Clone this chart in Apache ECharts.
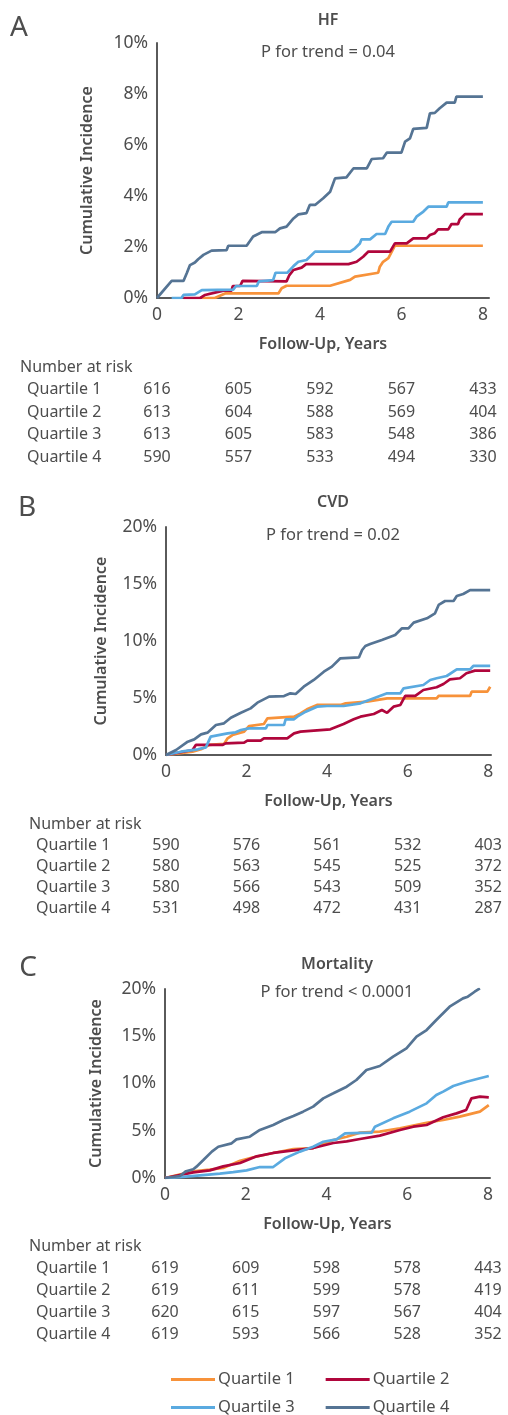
<!DOCTYPE html>
<html>
<head>
<meta charset="utf-8">
<script src="https://cdn.jsdelivr.net/npm/echarts@6/dist/echarts.min.js"></script>
<style>
html,body{margin:0;padding:0;background:#fff;}
#c{width:508px;height:1415px;}
</style>
</head>
<body>
<div id="c"></div>
<script>
// ---------- data ----------
const quartiles = ['Quartile 1','Quartile 2','Quartile 3','Quartile 4'];
const xTicks = [0,2,4,6,8];

// Panel A: HF cumulative incidence (%), [year, pct]
const hfQ1 = [[1.1,0],[1.42,0],[1.67,0.18],[2.98,0.18],[3.06,0.38],[3.18,0.48],[4.25,0.48],[4.74,0.71],[4.86,0.84],[5.43,0.99],[5.47,1.23],[5.55,1.42],[5.68,1.56],[5.84,2.05],[8.0,2.05]];
const hfQ2 = [[0.65,0],[1.06,0],[1.18,0.12],[1.34,0.18],[1.63,0.29],[1.83,0.29],[1.86,0.47],[2.04,0.47],[2.1,0.67],[3.18,0.65],[3.25,0.9],[3.35,1.1],[3.55,1.19],[3.66,1.33],[4.7,1.33],[4.9,1.42],[5.06,1.62],[5.19,1.82],[5.72,1.82],[5.84,2.14],[6.13,2.14],[6.29,2.34],[6.62,2.34],[6.7,2.47],[6.82,2.54],[6.9,2.69],[7.15,2.69],[7.23,2.9],[7.39,2.9],[7.43,3.08],[7.56,3.29],[8.0,3.29]];
const hfQ3 = [[0.36,0],[0.6,0],[0.65,0.12],[0.93,0.14],[1.1,0.31],[1.87,0.33],[1.94,0.47],[2.45,0.47],[2.5,0.65],[2.85,0.7],[2.91,0.99],[3.2,0.99],[3.35,1.25],[3.47,1.42],[3.67,1.49],[3.88,1.82],[4.74,1.82],[4.86,1.95],[4.98,2.14],[5.02,2.3],[5.23,2.3],[5.39,2.51],[5.6,2.51],[5.68,2.8],[5.76,2.99],[6.29,2.99],[6.37,3.19],[6.54,3.39],[6.66,3.58],[7.11,3.58],[7.15,3.75],[8.0,3.75]];
const hfQ4 = [[0,0],[0.36,0.67],[0.65,0.67],[0.73,0.97],[0.81,1.29],[0.93,1.39],[1.01,1.52],[1.14,1.69],[1.34,1.86],[1.71,1.88],[1.75,2.05],[2.2,2.05],[2.36,2.41],[2.57,2.58],[2.9,2.58],[3.02,2.73],[3.18,2.8],[3.35,3.12],[3.47,3.28],[3.67,3.33],[3.75,3.65],[3.88,3.65],[4.08,3.91],[4.25,4.17],[4.37,4.69],[4.65,4.73],[4.82,5.08],[5.15,5.08],[5.27,5.45],[5.55,5.48],[5.64,5.7],[6.0,5.7],[6.09,6.13],[6.21,6.26],[6.29,6.63],[6.62,6.67],[6.7,7.24],[6.82,7.26],[6.94,7.44],[7.11,7.66],[7.31,7.66],[7.35,7.9],[8.0,7.9]];

// Panel B: CVD
const cvdQ1 = [[0,0],[0.66,0.29],[0.87,0.5],[1.07,0.88],[1.44,0.97],[1.53,1.46],[1.65,1.75],[1.94,2.05],[2.06,2.54],[2.43,2.72],[2.52,3.22],[2.89,3.3],[3.18,3.36],[3.34,3.65],[3.5,4.01],[3.75,4.39],[4.33,4.39],[4.46,4.53],[4.99,4.68],[5.49,4.97],[6.72,4.97],[6.77,5.18],[7.55,5.18],[7.59,5.56],[7.98,5.56],[8.05,5.99]];
const cvdQ2 = [[0,0],[0.66,0.44],[0.74,0.88],[1.4,0.88],[1.48,1.02],[1.94,1.08],[2.02,1.26],[2.35,1.26],[2.43,1.46],[3.01,1.46],[3.18,1.9],[3.34,2.05],[4.08,2.25],[4.41,2.72],[4.66,3.13],[4.83,3.36],[5.16,3.6],[5.36,3.95],[5.49,3.7],[5.65,4.24],[5.82,4.39],[5.94,5.18],[6.19,5.18],[6.39,5.7],[6.72,5.94],[6.89,6.23],[7.05,6.64],[7.3,6.73],[7.46,7.17],[7.67,7.4],[8.05,7.4]];
const cvdQ3 = [[0,0],[0.37,0.29],[0.79,0.5],[0.99,0.67],[1.11,1.61],[1.53,1.9],[1.73,1.99],[1.86,2.19],[2.06,2.34],[2.48,2.34],[2.52,2.63],[2.93,2.63],[2.97,3.13],[3.18,3.13],[3.26,3.36],[3.47,3.8],[3.75,4.24],[4.0,4.3],[4.41,4.3],[4.83,4.53],[5.16,4.97],[5.49,5.41],[5.82,5.41],[5.9,5.85],[6.39,6.14],[6.56,6.58],[6.72,6.73],[6.97,6.93],[7.22,7.51],[7.55,7.51],[7.63,7.81],[8.05,7.81]];
const cvdQ4 = [[0,0],[0.25,0.44],[0.54,1.17],[0.7,1.37],[0.87,1.81],[1.03,1.96],[1.24,2.63],[1.44,2.78],[1.61,3.27],[1.86,3.71],[2.1,4.09],[2.27,4.59],[2.56,5.12],[2.93,5.17],[3.09,5.41],[3.22,5.35],[3.42,5.99],[3.67,6.58],[3.92,7.31],[4.12,7.75],[4.33,8.48],[4.79,8.56],[4.87,9.21],[4.95,9.56],[5.07,9.74],[5.36,10.09],[5.69,10.53],[5.86,11.11],[6.02,11.11],[6.15,11.61],[6.48,11.99],[6.68,12.43],[6.77,13.16],[6.93,13.51],[7.14,13.51],[7.22,13.95],[7.38,14.12],[7.55,14.47],[8.05,14.47]];

// Panel C: Mortality
const mortQ1 = [[0,0],[0.7,0.7],[1.11,0.88],[1.44,1.06],[1.86,1.83],[2.19,2.19],[2.68,2.65],[3.18,3.07],[3.67,3.17],[4.17,4.02],[4.5,4.37],[4.83,4.8],[5.32,4.9],[5.82,5.26],[6.48,5.85],[6.89,6.14],[7.3,6.49],[7.8,7.02],[8.02,7.72]];
const mortQ2 = [[0,0],[0.7,0.6],[1.11,0.81],[1.44,1.23],[1.86,1.59],[2.27,2.29],[2.68,2.65],[3.18,2.93],[3.67,3.17],[4.17,3.7],[4.5,3.88],[4.83,4.13],[5.32,4.48],[5.82,5.08],[6.15,5.43],[6.48,5.61],[6.89,6.42],[7.22,6.84],[7.46,7.2],[7.59,8.43],[7.8,8.61],[8.02,8.54]];
const mortQ3 = [[0,0],[0.37,0.1],[0.87,0.28],[1.36,0.46],[1.69,0.63],[2.02,0.81],[2.35,1.16],[2.68,1.16],[2.97,2.08],[3.34,2.79],[3.67,3.31],[3.92,3.84],[4.25,4.09],[4.46,4.73],[5.12,4.8],[5.2,5.43],[5.65,6.31],[6.06,7.02],[6.48,7.9],[6.72,8.78],[6.89,9.14],[7.14,9.74],[7.47,10.19],[7.8,10.55],[8.02,10.79]];
const mortQ4 = [[0,0],[0.37,0.21],[0.5,0.67],[0.7,0.92],[0.78,1.2],[0.95,1.9],[1.16,2.79],[1.32,3.31],[1.65,3.67],[1.77,4.09],[2.1,4.37],[2.35,5.08],[2.68,5.61],[2.93,6.14],[3.18,6.56],[3.42,7.02],[3.67,7.55],[3.92,8.43],[4.17,8.96],[4.5,9.66],[4.74,10.37],[4.99,11.43],[5.32,11.85],[5.65,12.84],[5.98,13.72],[6.23,14.95],[6.48,15.66],[6.72,16.72],[7.05,18.13],[7.38,19.01],[7.5,19.19],[7.67,19.71],[7.8,20.07]];

// Number at risk tables
const riskHF   = [[616,605,592,567,433],[613,604,588,569,404],[613,605,583,548,386],[590,557,533,494,330]];
const riskCVD  = [[590,576,561,532,403],[580,563,545,525,372],[580,566,543,509,352],[531,498,472,431,287]];
const riskMort = [[619,609,598,578,443],[619,611,599,578,419],[620,615,597,567,404],[619,593,566,528,352]];

// ---------- styling ----------
const FONT = 'Noto Sans';
const TXT = '#4d4d4d';
const AX = '#5a5a5a';
const colors = ['#F7923A','#B0063C','#5AAAE0','#557494'];

const panels = [
  {letter:'A', title:'HF', p:'P for trend = 0.04', series:[hfQ1,hfQ2,hfQ3,hfQ4], risk:riskHF,
   grid:{left:157, top:43, width:332, height:255}, xmax:8.15, ymax:10, yint:2, nameGap:62,
   letterPos:[19,28], titleY:20, pY:52, titleX:328, riskTop:367, rowGap:22.5, riskLeft:20},
  {letter:'B', title:'CVD', p:'P for trend = 0.02', series:[cvdQ1,cvdQ2,cvdQ3,cvdQ4], risk:riskCVD,
   grid:{left:166, top:527, width:325, height:228}, xmax:8.07, ymax:20, yint:5, nameGap:57,
   letterPos:[27,508], titleY:502, pY:535, titleX:333, riskTop:824, rowGap:21, riskLeft:29},
  {letter:'C', title:'Mortality', p:'P for trend < 0.0001', series:[mortQ1,mortQ2,mortQ3,mortQ4], risk:riskMort,
   grid:{left:165, top:989, width:325, height:189}, xmax:8.05, ymax:20, yint:5, nameGap:61,
   letterPos:[28,968], titleY:964, pY:992, titleX:337, riskTop:1246, rowGap:22.2, riskLeft:29}
];

const grid = [], xAxis = [], yAxis = [], series = [];
panels.forEach((pn, i) => {
  grid.push(Object.assign({containLabel:false}, pn.grid));
  xAxis.push({
    type:'value', gridIndex:i, min:0, max:pn.xmax, interval:2,
    name:'Follow-Up, Years', nameLocation:'middle', nameGap:38,
    nameTextStyle:{color:TXT, fontFamily:FONT, fontSize:16, fontWeight:600},
    axisLine:{show:true, onZero:false, lineStyle:{color:AX, width:2}},
    axisTick:{show:false}, splitLine:{show:false},
    axisLabel:{color:TXT, fontFamily:FONT, fontSize:17.5, margin:8, showMaxLabel:false,
      formatter:v => (Math.abs(v - Math.round(v)) < 1e-9 ? String(v) : '')}
  });
  yAxis.push({
    type:'value', gridIndex:i, min:0, max:pn.ymax, interval:pn.yint,
    name:'Cumulative Incidence', nameLocation:'middle', nameGap:pn.nameGap,
    nameTextStyle:{color:TXT, fontFamily:FONT, fontSize:16, fontWeight:600},
    axisLine:{show:true, lineStyle:{color:AX, width:2}},
    axisTick:{show:false}, splitLine:{show:false},
    axisLabel:{color:TXT, fontFamily:FONT, fontSize:17.5, margin:9, formatter:'{value}%'}
  });
  pn.series.forEach((d, k) => {
    series.push({
      type:'line', name:quartiles[k], xAxisIndex:i, yAxisIndex:i, data:d,
      showSymbol:false, symbol:'none', silent:true, z:2+k,
      lineStyle:{color:colors[k], width:2.7}, itemStyle:{color:colors[k]}
    });
  });
});

const chart = echarts.init(document.getElementById('c'), null, {renderer:'canvas'});
chart.setOption({
  animation:false,
  backgroundColor:'#fff',
  textStyle:{fontFamily:FONT},
  grid, xAxis, yAxis, series,
  legend:[
    {data:['Quartile 1','Quartile 2'], left:166, top:1366, itemWidth:44, itemHeight:3, icon:'rect',
     itemGap:31, textStyle:{color:TXT, fontFamily:FONT, fontSize:16.5, padding:[0,0,0,-2]}},
    {data:['Quartile 3','Quartile 4'], left:166, top:1394, itemWidth:44, itemHeight:3, icon:'rect',
     itemGap:31, textStyle:{color:TXT, fontFamily:FONT, fontSize:16.5, padding:[0,0,0,-2]}}
  ]
});

// Text elements (letters, titles, number-at-risk tables)
const g = [];
const txt = (x, y, s, opts) => g.push({type:'text', x, y, silent:true,
  style:Object.assign({text:s, fill:TXT, font:`17px "${FONT}"`, textAlign:'left', textVerticalAlign:'middle'}, opts||{})});
panels.forEach((pn, i) => {
  txt(pn.letterPos[0], pn.letterPos[1], pn.letter, {font:`28px "${FONT}"`, textAlign:'center'});
  txt(pn.titleX, pn.titleY, pn.title, {font:`600 16px "${FONT}"`, textAlign:'center'});
  txt(pn.titleX, pn.pY, pn.p, {font:`16.5px "${FONT}"`, textAlign:'center'});
  txt(pn.riskLeft, pn.riskTop, 'Number at risk', {font:`16px "${FONT}"`});
  pn.risk.forEach((row, r) => {
    const y = pn.riskTop + (r + 1) * pn.rowGap;
    txt(pn.riskLeft + 7, y, quartiles[r], {font:`16px "${FONT}"`});
    row.forEach((v, c) => {
      const px = chart.convertToPixel({xAxisIndex:i}, xTicks[c]);
      txt(px, y, String(v), {font:`16px "${FONT}"`, textAlign:'center'});
    });
  });
});
chart.setOption({graphic:{elements:g}});
</script>
</body>
</html>
